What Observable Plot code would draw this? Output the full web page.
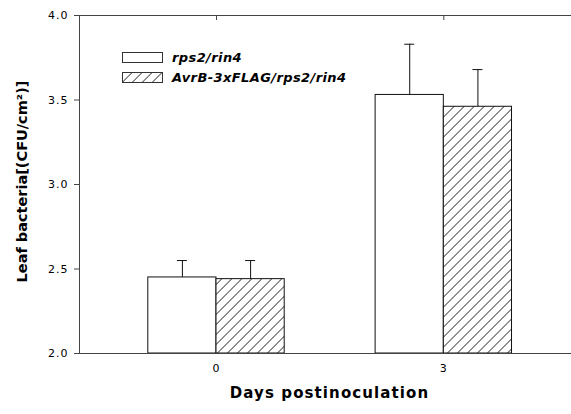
<!DOCTYPE html>
<html>
<head>
<meta charset="utf-8">
<script src="https://cdn.jsdelivr.net/npm/d3@7"></script>
<script src="https://cdn.jsdelivr.net/npm/@observablehq/plot@0.6"></script>
<style>
  html, body { margin: 0; padding: 0; background: #fff; }
  #wrap { position: relative; width: 571px; height: 414px; overflow: hidden; }
  #wrap svg.plot text { fill: #000; }
  .ytick text, .xtick text { letter-spacing: 1px; }
  .xtitle text { letter-spacing: 1.1px; }
  #legend { position: absolute; left: 122px; top: 47px; font-family: "DejaVu Sans", sans-serif;
            font-weight: bold; font-style: italic; font-size: 13px; color: #000; letter-spacing: 0.4px; }
  #legend .row { display: flex; align-items: center; height: 20px; }
  #legend svg { margin-right: 9px; }
</style>
</head>
<body>
<svg width="0" height="0" style="position:absolute">
  <defs>
    <pattern id="hatch" patternUnits="userSpaceOnUse" width="7.07" height="7.07" patternTransform="rotate(45)">
      <rect width="7.07" height="7.07" fill="#fff"></rect>
      <line x1="0" y1="0" x2="0" y2="7.07" stroke="#000" stroke-width="1.3"></line>
    </pattern>
  </defs>
</svg>
<div id="wrap"></div>
<script>
// ---- data ----
const days = [0, 3];
const series = ["rps2/rin4", "AvrB-3xFLAG/rps2/rin4"];
const meanRps2 = [2.45, 3.53];
const meanAvrB = [2.44, 3.46];
const errRps2 = [0.10, 0.30];
const errAvrB = [0.11, 0.22];
const yTicks = [2.0, 2.5, 3.0, 3.5, 4.0];
const xTicks = [0, 3];
const xTitle = "Days postinoculation";
const yTitle = "Leaf bacteria[(CFU/cm\u00B2)]";

// ---- table ----
const BW = 0.9; // bar width in x units (days)
const rows = days.flatMap((d, i) => [
  {day: d, series: series[0], mean: meanRps2[i], err: errRps2[i], side: -1},
  {day: d, series: series[1], mean: meanAvrB[i], err: errAvrB[i], side: 1}
]);
const bx1 = d => d.side < 0 ? d.day - BW : d.day;
const bx2 = d => d.side < 0 ? d.day : d.day + BW;
const bxc = d => d.day + d.side * BW / 2;
const errTop = d => d.mean + d.err;
const white = rows.filter(d => d.side < 0);
const hatched = rows.filter(d => d.side > 0);
const xDomain = [-1.808, 4.685];

const chart = Plot.plot({
  width: 571,
  height: 414,
  marginLeft: 79,
  marginRight: 0,
  marginTop: 15,
  marginBottom: 61,
  style: {fontFamily: "DejaVu Sans, sans-serif", fontSize: "11px", background: "#fff", color: "#000"},
  x: {domain: xDomain},
  y: {domain: [2, 4]},
  marks: [
    Plot.rectY(white, {x1: bx1, x2: bx2, y1: 2, y2: "mean", fill: "white", stroke: "#111", strokeWidth: 1}),
    Plot.rectY(hatched, {x1: bx1, x2: bx2, y1: 2, y2: "mean", fill: "url(#hatch)", stroke: "#111", strokeWidth: 1}),
    Plot.ruleX(rows, {x: bxc, y1: "mean", y2: errTop, stroke: "#111", strokeWidth: 1}),
    Plot.ruleY(rows, {y: errTop, x1: bxc, x2: bxc, insetLeft: -5, insetRight: -5, stroke: "#111", strokeWidth: 1}),
    Plot.ruleY([2, 4], {stroke: "#444", strokeWidth: 1}),
    Plot.ruleX([xDomain[0]], {stroke: "#444", strokeWidth: 1}),
    Plot.axisY({ticks: yTicks, tickFormat: d3.format(".1f"), tickSize: 5, tickPadding: 6, label: null, stroke: "#444", className: "ytick"}),
    Plot.axisX({ticks: xTicks, tickFormat: d3.format("d"), tickSize: 0, tickPadding: 11, label: null, className: "xtick"}),
    Plot.axisX({anchor: "top", ticks: xTicks, tickSize: -4, tickFormat: () => "", label: null, stroke: "#444"}),
    Plot.text([xTitle], {frameAnchor: "bottom", dy: 44, dx: 4, fontWeight: "bold", fontSize: 15, fill: "#000", text: d => d, className: "xtitle"}),
    Plot.text([yTitle], {frameAnchor: "left", textAnchor: "middle", rotate: -90, dx: -57, dy: -3, fontWeight: "bold", fontSize: 14.5, fill: "#000", text: d => d})
  ]
});
const wrap = document.getElementById("wrap");
wrap.appendChild(chart);

// legend overlay
const legend = document.createElement("div");
legend.id = "legend";
series.forEach((s, i) => {
  const row = document.createElement("div");
  row.className = "row";
  row.innerHTML = `<svg width="41" height="11"><rect x="0.5" y="0.5" width="40" height="10" fill="${i === 0 ? "#fff" : "url(#hatch)"}" stroke="#333" stroke-width="1"></rect></svg><span>${s}</span>`;
  legend.appendChild(row);
});
wrap.appendChild(legend);
</script>
</body>
</html>
